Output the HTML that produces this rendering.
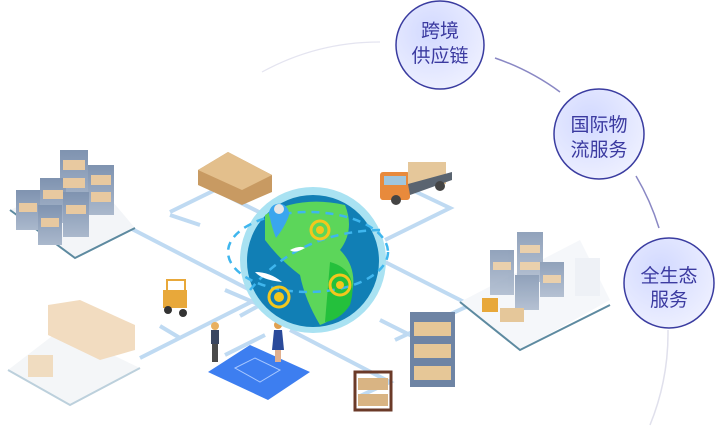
<!DOCTYPE html>
<html><head><meta charset="utf-8"><style>
html,body{margin:0;padding:0;background:#fff;width:722px;height:445px;overflow:hidden}
svg{display:block}
.t{font-family:"Liberation Sans","Noto Sans CJK SC",sans-serif;font-size:19px;fill:#3b3aa0;text-anchor:middle}
</style></head><body>
<svg width="722" height="445" viewBox="0 0 722 445" xmlns="http://www.w3.org/2000/svg">
<defs>
<radialGradient id="cg" cx="40%" cy="35%" r="70%"><stop offset="0" stop-color="#d2d9ff"/><stop offset="1" stop-color="#eef0ff"/></radialGradient>
<linearGradient id="rack" x1="0" y1="0" x2="0" y2="1"><stop offset="0" stop-color="#7f93b0"/><stop offset="1" stop-color="#aab8cc"/></linearGradient>
</defs>
<path d="M262 72 A245 245 0 0 1 380 42" fill="none" stroke="#e4e4f0" stroke-width="1.2"/>
<path d="M495 58 A243 243 0 0 1 560 92" fill="none" stroke="#8a88c4" stroke-width="1.5"/>
<path d="M636 176 A243 243 0 0 1 659 228" fill="none" stroke="#8a88c4" stroke-width="1.5"/>
<path d="M668 330 A243 243 0 0 1 650 425" fill="none" stroke="#e0e0ec" stroke-width="1.5"/>

<g stroke="#bfdaf2" stroke-width="4" fill="none">
<path d="M130 228 L250 290"/>
<path d="M170 212 L215 190 L265 215"/>
<path d="M200 225 L170 215"/>
<path d="M140 358 L255 300"/>
<path d="M180 338 L160 326"/>
<path d="M225 290 L260 305 L240 316"/>
<path d="M385 240 L450 208 L412 190"/>
<path d="M385 262 L470 305 L395 340"/>
<path d="M380 320 L440 350"/>
<path d="M290 330 L390 382 L360 396"/>
<path d="M225 355 L265 335"/>
</g>

<polygon points="10,210 90,175 135,228 75,258" fill="#f3f5f8"/>
<polyline points="10,210 75,258 135,228" fill="none" stroke="#5d8aa0" stroke-width="2"/>
<g fill="url(#rack)">
<rect x="60" y="150" width="28" height="60"/><rect x="88" y="165" width="26" height="50"/>
<rect x="40" y="178" width="26" height="45"/><rect x="63" y="192" width="26" height="45"/>
<rect x="16" y="190" width="24" height="40"/><rect x="38" y="205" width="24" height="40"/>
</g>
<g fill="#e8c9a0"><rect x="63" y="160" width="22" height="10"/><rect x="63" y="178" width="22" height="10"/><rect x="91" y="175" width="20" height="10"/><rect x="91" y="192" width="20" height="10"/><rect x="43" y="190" width="20" height="9"/><rect x="66" y="205" width="20" height="9"/><rect x="19" y="203" width="18" height="9"/><rect x="41" y="218" width="18" height="9"/></g>

<polygon points="8,370 60,330 140,368 70,405" fill="#f4f6f8"/>
<polyline points="8,370 70,405 140,368" fill="none" stroke="#bcd0dc" stroke-width="2"/>
<g fill="#f2dcc0"><polygon points="48,305 80,300 135,325 135,350 100,360 48,335"/></g>
<rect x="28" y="355" width="25" height="22" fill="#f0dcc0"/>

<polygon points="198,170 228,152 272,175 272,192 242,205 198,185" fill="#c89a62"/>
<polygon points="198,170 228,152 272,175 242,190" fill="#e3bf8c"/>

<rect x="380" y="172" width="30" height="28" fill="#e88a3c" rx="3"/>
<rect x="384" y="176" width="22" height="9" fill="#9fc6de"/>
<rect x="408" y="162" width="38" height="22" fill="#e5c79a"/>
<polygon points="408,184 452,172 452,180 410,195" fill="#5a6470"/>
<circle cx="396" cy="200" r="5" fill="#444"/><circle cx="440" cy="186" r="5" fill="#444"/>

<rect x="163" y="290" width="24" height="18" fill="#e8a83a"/>
<rect x="167" y="280" width="18" height="12" fill="none" stroke="#e8a83a" stroke-width="2"/>
<circle cx="168" cy="310" r="4" fill="#333"/><circle cx="183" cy="313" r="4" fill="#333"/>

<polygon points="460,302 580,240 610,300 520,350" fill="#f5f7fa"/>
<polyline points="460,302 520,350 610,305" fill="none" stroke="#5d8aa0" stroke-width="2"/>
<g fill="url(#rack)" opacity="0.85">
<rect x="490" y="250" width="24" height="45"/><rect x="517" y="232" width="26" height="50"/>
<rect x="515" y="275" width="24" height="35"/><rect x="540" y="262" width="24" height="35"/>
</g>
<g fill="#ead0ac"><rect x="493" y="262" width="18" height="8"/><rect x="520" y="245" width="20" height="8"/><rect x="520" y="262" width="20" height="8"/><rect x="543" y="275" width="18" height="8"/></g>
<rect x="575" y="258" width="25" height="38" fill="#eef1f6"/>
<rect x="482" y="298" width="16" height="14" fill="#e8a83a"/>
<rect x="500" y="308" width="24" height="14" fill="#e5c79a"/>

<rect x="410" y="312" width="45" height="75" fill="#6e84a4"/>
<g fill="#e6c797"><rect x="414" y="322" width="37" height="14"/><rect x="414" y="344" width="37" height="14"/><rect x="414" y="366" width="37" height="14"/></g>
<rect x="355" y="372" width="36" height="38" fill="none" stroke="#6b3a28" stroke-width="3"/>
<rect x="358" y="378" width="30" height="12" fill="#d9b483"/><rect x="358" y="394" width="30" height="12" fill="#d9b483"/>

<polygon points="208,372 250,345 310,372 268,400" fill="#3d7ef0"/>
<polygon points="235,368 255,358 280,370 260,382" fill="none" stroke="#a8c8ff" stroke-width="1"/>
<rect x="211" y="330" width="8" height="14" fill="#3a4660"/><rect x="212" y="344" width="6" height="18" fill="#4b4b4b"/><circle cx="215" cy="326" r="4" fill="#e8b060"/>
<path d="M274 330 L282 330 L284 350 L272 350 Z" fill="#2a4a9a"/><rect x="275" y="350" width="6" height="12" fill="#e0b090"/><circle cx="278" cy="325" r="4" fill="#e0a050"/>

<circle cx="313" cy="260" r="73" fill="#a9e2f2"/>
<circle cx="313" cy="261" r="66" fill="#117fb5"/>
<path d="M265 215 Q300 195 345 205 Q355 230 340 250 Q360 270 350 300 Q335 320 320 325 Q305 300 300 275 Q280 260 265 240 Z" fill="#5cd65a"/>
<path d="M330 262 Q360 270 350 305 Q340 320 325 322 Z" fill="#24c03c"/>
<ellipse cx="308" cy="252" rx="80" ry="40" fill="none" stroke="#3fb6ee" stroke-width="2.5" stroke-dasharray="8 6"/>
<path d="M250 290 Q300 230 385 230" fill="none" stroke="#3fb6ee" stroke-width="2.5" stroke-dasharray="8 6"/>
<circle cx="320" cy="230" r="9" fill="none" stroke="#f3c71d" stroke-width="3"/><circle cx="320" cy="230" r="4" fill="#f3c71d"/>
<circle cx="340" cy="285" r="10" fill="none" stroke="#f3c71d" stroke-width="3"/><circle cx="340" cy="285" r="4" fill="#f3c71d"/>
<circle cx="279" cy="297" r="10" fill="none" stroke="#f3c71d" stroke-width="3"/><circle cx="279" cy="297" r="5" fill="#f3c71d"/>
<path d="M255 272 Q270 272 282 282 Q262 280 255 272 Z" fill="#fff"/>
<path d="M290 250 Q300 245 305 248 Q295 254 290 250Z" fill="#fff"/>
<path d="M270 218 A10 10 0 1 1 288 218 Q284 228 276 238 Q272 228 270 218Z" fill="#3aa6ee"/>
<circle cx="279" cy="209" r="5" fill="#e6e6e6"/>

<g>
<circle cx="440" cy="45" r="44" fill="url(#cg)" stroke="#3a3ca0" stroke-width="1.5"/>
<text class="t" x="440" y="37">跨境</text><text class="t" x="440" y="62">供应链</text>
<circle cx="599" cy="134" r="45" fill="url(#cg)" stroke="#3a3ca0" stroke-width="1.5"/>
<text class="t" x="599" y="131">国际物</text><text class="t" x="599" y="156">流服务</text>
<circle cx="669" cy="283" r="45" fill="url(#cg)" stroke="#3a3ca0" stroke-width="1.5"/>
<text class="t" x="669" y="282">全生态</text><text class="t" x="669" y="306">服务</text>
</g>
</svg>
</body></html>
